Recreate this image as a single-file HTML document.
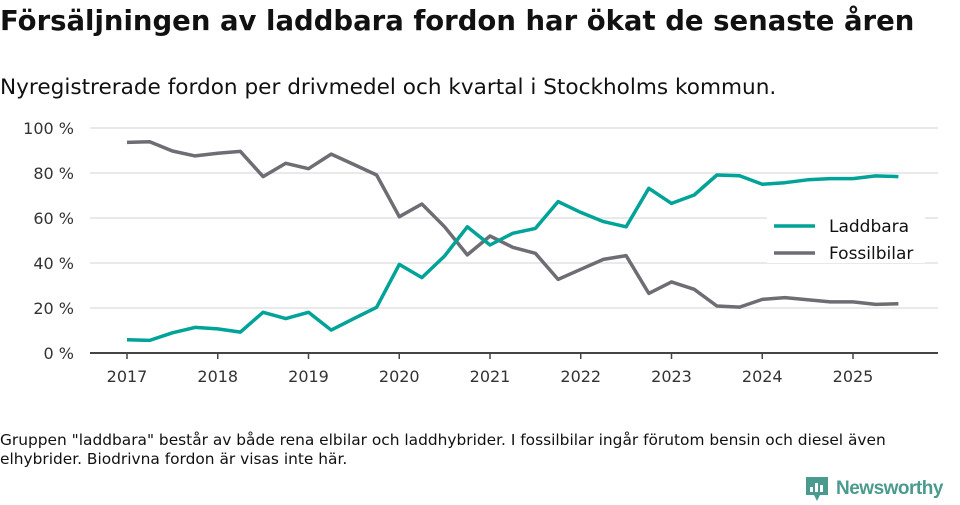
<!DOCTYPE html>
<html><head><meta charset="utf-8"><style>
body{margin:0;width:960px;height:505px;background:#fff;font-family:"DejaVu Sans","Liberation Sans",sans-serif;color:#111;overflow:hidden;position:relative}
.t{position:absolute;left:0;white-space:nowrap}
</style></head><body>
<div class="t" style="top:5px;font-size:27.5px;font-weight:bold">Försäljningen av laddbara fordon har ökat de senaste åren</div>
<div class="t" style="top:75px;font-size:21.6px">Nyregistrerade fordon per drivmedel och kvartal i Stockholms kommun.</div>
<svg id="chart" width="960" height="420" style="position:absolute;left:0;top:0"></svg>
<div class="t" style="top:431px;font-size:15.4px;line-height:19px">Gruppen "laddbara" består av både rena elbilar och laddhybrider. I fossilbilar ingår förutom bensin och diesel även<br>elhybrider. Biodrivna fordon är visas inte här.</div>
<div style="position:absolute;left:804px;top:475px;display:flex;align-items:center">
<svg width="26" height="28"><path d="M2 2h22v18h-8l-3 6-3-6H2z" fill="#4a9b8e"/><rect x="6" y="12" width="3" height="5" fill="#fff"/><rect x="11" y="8" width="3" height="9" fill="#fff"/><rect x="16" y="10" width="3" height="7" fill="#fff"/></svg>
<span style="font-size:19px;color:#4a9b8e;margin-left:6px;font-weight:600;letter-spacing:-0.5px;font-family:'Liberation Sans',sans-serif">Newsworthy</span></div>
<script>
const startYear = 2017;
const yTicks = [0,20,40,60,80,100];
const xYears = [2017,2018,2019,2020,2021,2022,2023,2024,2025];
const laddbara = [5.9,5.6,9,11.4,10.7,9.3,18.1,15.3,18.1,10.2,15.3,20.3,39.4,33.5,43.1,56.1,48,53.2,55.4,67.3,62.5,58.4,56.1,73.2,66.5,70.2,79.1,78.8,75,75.7,77,77.5,77.5,78.7,78.4];
const fossil = [93.6,93.9,89.8,87.6,88.8,89.6,78.4,84.3,81.9,88.4,83.8,79.1,60.6,66.2,56.1,43.6,52,47,44.3,32.7,37.2,41.6,43.3,26.5,31.6,28.3,20.9,20.4,23.8,24.6,23.7,22.7,22.7,21.6,21.9];
const svg = document.getElementById('chart');
const NS = 'http://www.w3.org/2000/svg';
const x = yr => 127 + (yr - startYear) * 90.75;
const y = v => 353 - v * 2.25;
function mk(t, a){const e=document.createElementNS(NS,t);for(const k in a)e.setAttribute(k,a[k]);svg.appendChild(e);return e;}
yTicks.forEach(v=>{
  if(v>0){const g=mk('line',{x1:90,x2:938,y1:y(v),y2:y(v),stroke:'#e2e2e2','stroke-width':1.5});
  
  }
  const t=mk('text',{x:74,y:y(v)+6,'text-anchor':'end','font-size':16,fill:'#333'});
  t.textContent=v+' %';
  
  
});
const ax=mk('line',{x1:90,x2:938,y1:353,y2:353,stroke:'#444','stroke-width':2});


xYears.forEach(yr=>{
  const tk=mk('line',{x1:x(yr),x2:x(yr),y1:353,y2:359,stroke:'#444','stroke-width':1.5});
  
  
  const t=mk('text',{x:x(yr),y:382,'text-anchor':'middle','font-size':16,fill:'#333'});
  t.textContent=yr;
  
  
});
function line(data,color,name){
  const d=data.map((v,i)=>(i?'L':'M')+x(startYear+i/4).toFixed(1)+' '+y(v).toFixed(1)).join(' ');
  const p=mk('path',{d:d,fill:'none',stroke:color,'stroke-width':3.5,'stroke-linejoin':'round'});
  
  
}
line(fossil,'#6e6d73','fossilbilar-line');
line(laddbara,'#00a397','laddbara-line');
const lb=mk('rect',{x:767,y:217,width:158,height:46,fill:'#fff'});


[['Laddbara','#00a397',226],['Fossilbilar','#6e6d73',253]].forEach(([n,c,yy])=>{
  const l=mk('line',{x1:774,x2:815,y1:yy,y2:yy,stroke:c,'stroke-width':3.5});
  
  
  const t=mk('text',{x:829,y:yy+6,'font-size':17,fill:'#111'});
  t.textContent=n;
  
  
});
</script>
</body></html>
